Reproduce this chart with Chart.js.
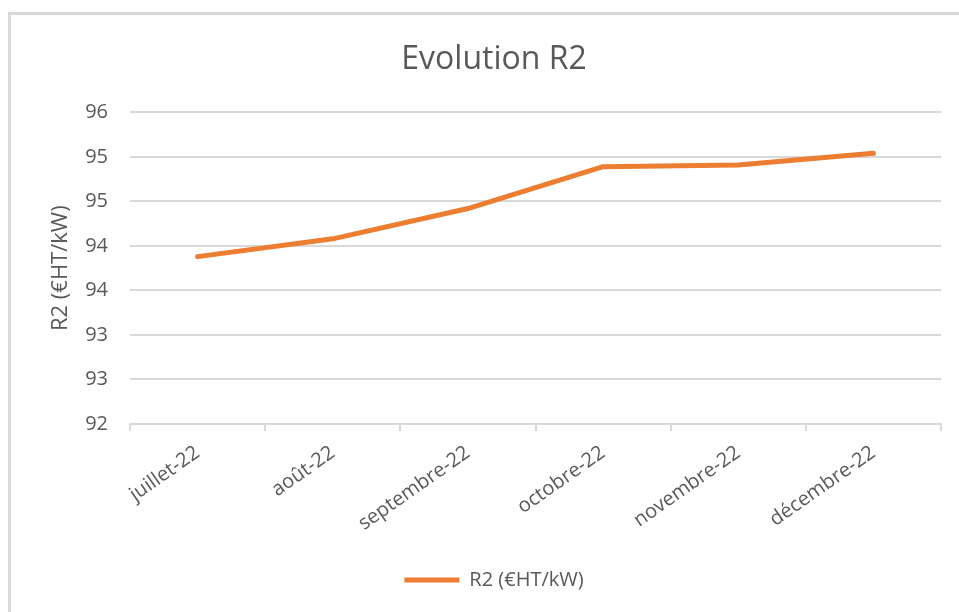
<!DOCTYPE html>
<html>
<head>
<meta charset="utf-8">
<script src="https://cdn.jsdelivr.net/npm/chart.js@4/dist/chart.umd.min.js"></script>
<style>
  html, body { margin: 0; padding: 0; background: #ffffff; }
  #wrap { position: relative; width: 959px; height: 612px; }
</style>
</head>
<body>
<div id="wrap"><canvas id="c" width="959" height="612"></canvas></div>
<script>
const categories = ['juillet-22', 'août-22', 'septembre-22', 'octobre-22', 'novembre-22', 'décembre-22'];
const r2Values = [93.88, 94.08, 94.42, 94.89, 94.91, 95.04];
const seriesLabel = 'R2 (€HT/kW)';
const chartTitle = 'Evolution R2';
const yMin = 92, yMax = 95.5, yStep = 0.5;

const textColor = '#595959';
const gridColor = '#d9d9d9';
const fontFamily = '"Open Sans", "Segoe UI", sans-serif';

const borderPlugin = {
  id: 'outerBorder',
  beforeDraw(chart) {
    const ctx = chart.ctx;
    ctx.save();
    ctx.fillStyle = '#ffffff';
    ctx.fillRect(0, 0, chart.width, chart.height);
    ctx.fillStyle = '#d9d9d9';
    ctx.fillRect(8, 12, 3, chart.height - 12);
    ctx.fillRect(8, 12, chart.width - 8, 3);
    ctx.restore();
  }
};

new Chart(document.getElementById('c'), {
  type: 'line',
  data: {
    labels: categories,
    datasets: [{
      label: seriesLabel,
      data: r2Values,
      borderColor: '#ED7D31',
      backgroundColor: '#ED7D31',
      borderWidth: 5,
      borderCapStyle: 'round',
      borderJoinStyle: 'round',
      pointRadius: 0,
      pointHoverRadius: 0,
      tension: 0,
      fill: false
    }]
  },
  options: {
    responsive: false,
    animation: false,
    devicePixelRatio: 1,
    layout: { padding: { left: 47, right: 18, top: 20, bottom: 12 } },
    plugins: {
      title: {
        display: true,
        text: chartTitle,
        color: textColor,
        font: { family: fontFamily, size: 32, weight: 'normal' },
        padding: { top: 21, bottom: 33 }
      },
      legend: {
        position: 'bottom',
        labels: {
          color: textColor,
          font: { family: fontFamily, size: 20 },
          usePointStyle: true,
          pointStyle: 'line',
          pointStyleWidth: 55,
          padding: 10
        }
      },
      tooltip: { enabled: false }
    },
    scales: {
      x: {
        offset: true,
        grid: {
          offset: true,
          drawOnChartArea: false,
          drawTicks: true,
          tickLength: 7,
          color: gridColor,
          lineWidth: 2
        },
        border: { color: gridColor, width: 2 },
        ticks: {
          color: textColor,
          font: { family: fontFamily, size: 20 },
          minRotation: 35,
          maxRotation: 35,
          padding: 10,
          autoSkip: false
        },
        afterFit(scale) { scale.height = 136; }
      },
      y: {
        min: yMin,
        max: yMax,
        grid: {
          color: gridColor,
          lineWidth: 2,
          drawTicks: false
        },
        border: { display: false },
        ticks: {
          stepSize: yStep,
          color: textColor,
          font: { family: fontFamily, size: 20 },
          padding: 22,
          callback: (v) => String(Math.round(v))
        },
        title: {
          display: true,
          text: seriesLabel,
          color: textColor,
          font: { family: fontFamily, size: 22 },
          padding: { top: 1, bottom: 0 }
        },
        afterFit(scale) { scale.width = 83; }
      }
    }
  },
  plugins: [borderPlugin]
});
</script>
</body>
</html>
